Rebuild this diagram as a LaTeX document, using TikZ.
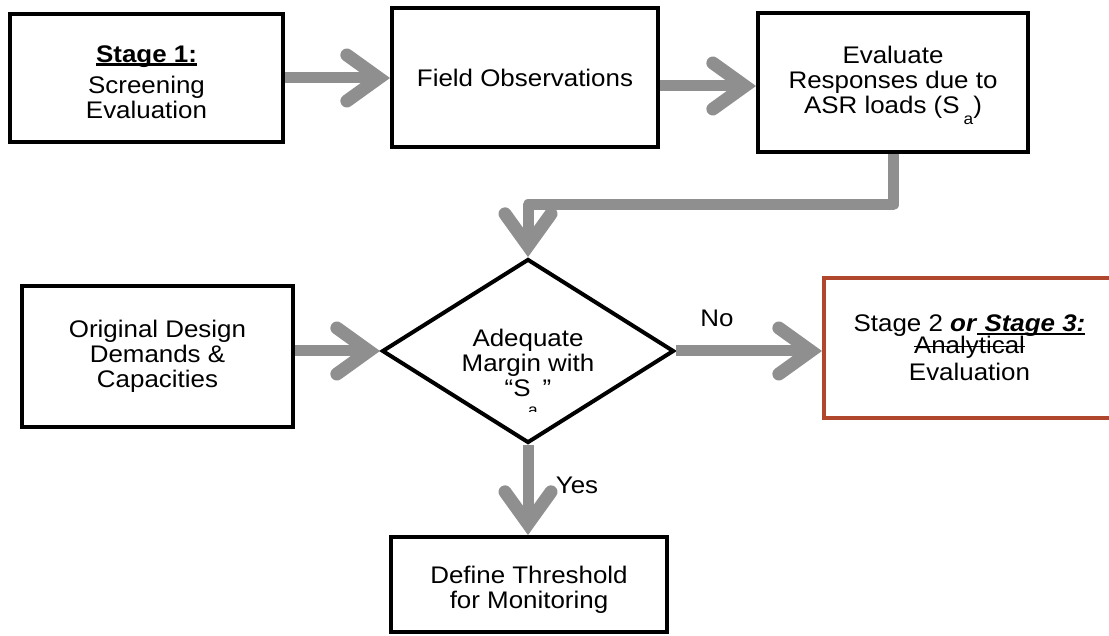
\documentclass[tikz,border=0pt]{standalone}
\usepackage{fontspec}
\setmainfont{Liberation Sans}[FakeStretch=1.08]
\usetikzlibrary{arrows.meta,shapes.geometric}
\definecolor{flowgray}{HTML}{8F8F8F}
\definecolor{stagebrown}{HTML}{B0472C}
% underline and strike-through drawn as plain rules
\newcommand\ulbox[1]{\setbox0\hbox{#1}\rlap{\rule[-3.5pt]{\wd0}{2.4pt}}\box0}
\newcommand\strikeword[1]{\setbox0\hbox{#1}\rlap{\rule[0.5ex]{\wd0}{1.6pt}}\box0}
\begin{document}
\begin{tikzpicture}[x=1pt,y=-1pt,
  every node/.style={font=\fontsize{24}{25}\selectfont, align=center, inner sep=0pt},
  box/.style={draw=black, line width=4pt, fill=white, rectangle},
  stagebox/.style={draw=stagebrown, line width=4pt, fill=white, rectangle},
  decision/.style={draw=black, line width=4pt, fill=white, diamond},
  flow/.style={draw=flowgray, line width=11pt, line join=round,
    -{Straight Barb[length=32pt,width=46pt,line width=13pt,line cap=round,line join=miter]}}
]
\useasboundingbox (0,0) rectangle (1109,636);
\clip (0,0) rectangle (1109,636);
\fill[white] (0,0) rectangle (1109,636);

% process boxes, their texts set as centred labels
\node[box, minimum width=273pt, minimum height=128pt,
  label={[name=s1-text, yshift=-4pt]center:{\textbf{\ulbox{Stage 1:}}\\[6pt]Screening\\Evaluation}}]
  (s1) at (146.5,78) {};
\node[box, minimum width=266pt, minimum height=139pt] (fo) at (525,77.5)
  {Field Observations};
\node[box, minimum width=270pt, minimum height=139pt] (ev) at (893,82.5)
  {Evaluate\\Responses due to\\ASR loads (S\,\raisebox{-11pt}[0pt][0pt]{\fontsize{16}{16}\selectfont a})};
\node[box, minimum width=271pt, minimum height=141pt] (od) at (157.5,356.5)
  {Original Design\\Demands \&\\Capacities};
\node[stagebox, minimum width=291pt, minimum height=140pt,
  label={[name=st2-text]center:{Stage 2 \textbf{\textit{or}}\ulbox{\textbf{\textit{\ Stage 3:}}}\\[-3pt]\strikeword{Analytical}\\[2pt]Evaluation}}]
  (st2) at (969.5,348) {};
\node[box, minimum width=276pt, minimum height=95pt,
  label={[name=dt-text, yshift=-5pt]center:{Define Threshold\\for Monitoring}}]
  (dt) at (529,584.5) {};

% decision
\node[decision, minimum width=292pt, minimum height=184pt] (dia) at (528,351) {};
\node (diatext) at (528,363) {Adequate\\Margin with\\“S\hspace{12pt}”};
\begin{scope}
  \clip (520,400) rectangle (550,411);
  \node[font=\fontsize{16}{16}\selectfont, anchor=base] (suba) at (533,416) {a};
\end{scope}

% connectors
\draw[flow] (s1.east) -- (s1.east -| fo.west);
\draw[flow] ([yshift=-8.5pt]fo.east) -- ([yshift=-8.5pt]fo.east -| ev.west);
\draw[flow] (ev.south) -- ++(0,51) -| (dia.north);
\draw[flow] (od.east |- dia.west) -- (dia.west);
\draw[flow] (dia.east) -- (dia.east -| st2.west);
\draw[flow] (dia.south) -- (dia.south |- dt.north);

% branch labels
\node (no) at (717,318) {No};
\node (yes) at (577,485) {Yes};
\end{tikzpicture}
\end{document}
